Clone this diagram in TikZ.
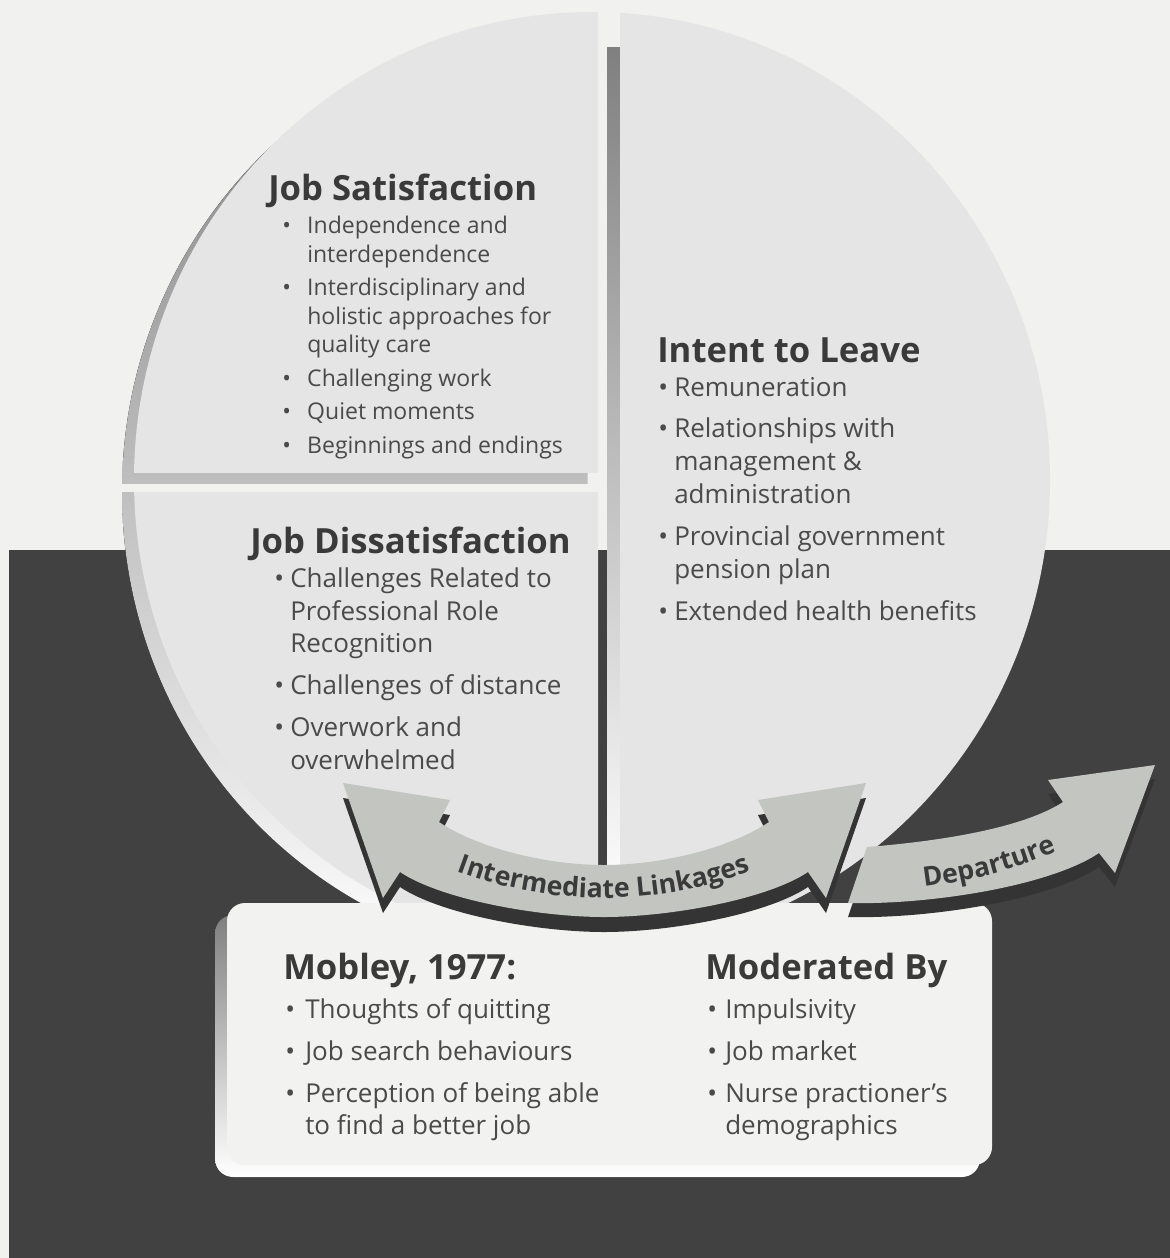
\documentclass[tikz,border=0pt]{standalone}
\usepackage{fontspec}
\setmainfont{Open Sans}
\usetikzlibrary{decorations.text}

\definecolor{bglight}{HTML}{F1F1EF}
\definecolor{bgdark}{HTML}{414141}
\definecolor{face}{HTML}{E5E5E5}
\definecolor{shade}{HTML}{B9B9B9}
\definecolor{boxface}{HTML}{F2F2F0}
\definecolor{arrowfill}{HTML}{C3C5C1}
\definecolor{arrowshadow}{HTML}{343434}
\definecolor{titletxt}{HTML}{3A3A3A}
\definecolor{itemtxt}{HTML}{4A4A4A}

\newdimen\px \px=0.75pt
\newcommand\bu[1]{\makebox[#1\px][l]{\textbullet}}
\newcommand\hg[1]{\hspace*{#1\px}}
\newcommand\linkfont{\fontsize{20}{24}\selectfont\bfseries\color{titletxt}}

% outline of the double-headed "Intermediate Linkages" arrow
\newcommand\linkshape{(343,-783) -- (450,-800) -- (439,-822)
  .. controls (476,-847) and (544,-865) .. (604,-865)
  .. controls (664,-865) and (732,-847) .. (769,-822)
  -- (758,-800) -- (866,-783) -- (826,-898) -- (808,-872)
  .. controls (766,-900) and (668,-917) .. (604,-917)
  .. controls (540,-917) and (442,-900) .. (400,-872)
  -- (383,-898) -- cycle}
% outline of the "Departure" arrow
\newcommand\departshape{(848,-903) -- (867,-847)
  .. controls (930,-842) and (1020,-830) .. (1063,-802)
  -- (1048,-780) -- (1155,-765) -- (1115,-873) -- (1099,-853)
  .. controls (1050,-886) and (930,-905) .. (848,-903) -- cycle}
\newcommand\disc{(592,-480) ellipse [x radius=458, y radius=468]}

\begin{document}
\begin{tikzpicture}[x=0.75pt,y=0.75pt,
  title/.style={anchor=base west, inner sep=0pt, text=titletxt,
    font=\fontsize{26}{30}\selectfont\bfseries},
  % multi-line blocks are placed by the baseline of their last line
  items/.style={anchor=base west, inner sep=0pt, align=left, text=itemtxt}]

\useasboundingbox (0,0) rectangle (1170,-1258);

% background: light upper band, dark lower band
\fill[bglight] (0,0) rectangle (1170,-1258);
\fill[bgdark] (9,-550) rectangle (1170,-1258);

% shadow of the left half of the disc
\begin{scope}
  \clip (0,0) rectangle (587,-1258);
  \fill[shade] (580,-492) ellipse [x radius=458, y radius=468];
\end{scope}

% gaps between the pieces
\fill[bglight] (0,-484) rectangle (600,-492);
\fill[bglight] (598,0) rectangle (620,-550);
\fill[bgdark] (598,-550) rectangle (620,-905);
\fill[shade] (607,-47) rectangle (620,-905);

% the three pieces of the disc
\begin{scope}
  \clip (0,0) rectangle (598,-472);
  \fill[face] \disc;
\end{scope}
\begin{scope}
  \clip (0,-492) rectangle (598,-1258);
  \fill[face] \disc;
\end{scope}
\begin{scope}
  \clip (620,0) rectangle (1170,-1258);
  \fill[face] \disc;
\end{scope}

% Job Satisfaction
\node[title] (js) at (268,-200) {Job Satisfaction};
\node[items, font=\fontsize{17.25}{21.4}\selectfont] (jslist) at (282,-453)
  {\bu{25}Independence and\\\hg{25}interdependence\\[3.7pt]
   \bu{25}Interdisciplinary and\\\hg{25}holistic approaches for\\\hg{25}quality care\\[3.7pt]
   \bu{25}Challenging work\\[3.7pt]
   \bu{25}Quiet moments\\[3.7pt]
   \bu{25}Beginnings and endings};

% Intent to Leave
\node[title] (itl) at (657,-362) {Intent to Leave};
\node[items, font=\fontsize{19.5}{24.75}\selectfont] (itllist) at (658,-620)
  {\bu{16}Remuneration\\[6.4pt]
   \bu{16}Relationships with\\\hg{16}management \&\\\hg{16}administration\\[6.4pt]
   \bu{16}Provincial government\\\hg{16}pension plan\\[6.4pt]
   \bu{16}Extended health benefits};

% Job Dissatisfaction
\node[title] (jd) at (250,-553) {Job Dissatisfaction};
\node[items, font=\fontsize{19.5}{24.4}\selectfont] (jdlist) at (274,-769)
  {\bu{16}Challenges Related to\\\hg{16}Professional Role\\\hg{16}Recognition\\[7pt]
   \bu{16}Challenges of distance\\[7pt]
   \bu{16}Overwork and\\\hg{16}overwhelmed};

% summary box
\fill[shade, rounded corners=18\px] (215,-915) rectangle (980,-1177);
\fill[boxface, rounded corners=18\px] (227,-903) rectangle (992,-1165);

\node[title] (mob) at (283,-979) {Mobley, 1977:};
\node[items, font=\fontsize{19.5}{24}\selectfont] (moblist) at (285,-1134)
  {\bu{20}Thoughts of quitting\\[7.5pt]
   \bu{20}Job search behaviours\\[7.5pt]
   \bu{20}Perception of being able\\\hg{20}to find a better job};

\node[title] (mod) at (705,-979) {Moderated By};
\node[items, font=\fontsize{19.5}{24}\selectfont] (modlist) at (707,-1134)
  {\bu{18}Impulsivity\\[7.5pt]
   \bu{18}Job market\\[7.5pt]
   \bu{18}Nurse practioner’s\\\hg{18}demographics};

% Departure arrow
\fill[arrowshadow, shift={(0,-14)}] \departshape;
\fill[arrowfill] \departshape;
\path[decorate, decoration={text along path, text align=center,
    text={|\linkfont|Departure}}]
  (870,-420) ++(265:470) arc[start angle=265, end angle=305, radius=470];

% Intermediate Linkages arrow
\fill[arrowshadow, shift={(0,-15)}] \linkshape;
\fill[arrowfill] \linkshape;
\path[decorate, decoration={text along path, text align=center,
    text={|\linkfont|Intermediate Linkages}}]
  (604,-480) ++(230:418) arc[start angle=230, end angle=310, radius=418];

\end{tikzpicture}
\end{document}
